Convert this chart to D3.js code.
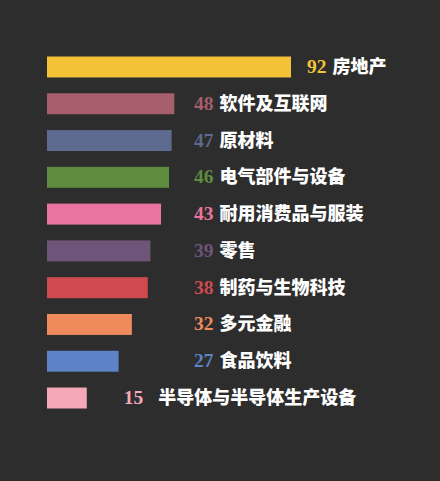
<!DOCTYPE html>
<html>
<head>
<meta charset="utf-8">
<script src="https://cdn.jsdelivr.net/npm/d3@7"></script>
<style>
  html, body { margin: 0; padding: 0; background: #2d2d2d; }
  svg { display: block; }
</style>
</head>
<body>
<script>
// data
const categories = ["房地产", "软件及互联网", "原材料", "电气部件与设备", "耐用消费品与服装",
  "零售", "制药与生物科技", "多元金融", "食品饮料", "半导体与半导体生产设备"];
const values = [92, 48, 47, 46, 43, 39, 38, 32, 27, 15];
const colors = ["#f3c237", "#a65e6c", "#5e6a8f", "#5f8b3e", "#e8749f",
  "#6d5478", "#cf4a4e", "#ef8a5c", "#5b83c6", "#f4a8b8"];

const w = 440, h = 481;
const margin = {left: 47};

const svg = d3.select("body").append("svg")
    .attr("width", w)
    .attr("height", h);

svg.append("rect").attr("width", w).attr("height", h).attr("fill", "#2d2d2d");

const rows = categories.map((c, i) => ({name: c, value: values[i], color: colors[i], i: i}));

const x = d3.scaleLinear().domain([0, 92]).range([0, 244]);
const y = d3.scaleBand().domain(categories).range([56.5, 408.5]).paddingInner(0.43);

const g = svg.append("g");

g.selectAll("rect.bar")
    .data(rows)
    .join("rect")
    .attr("class", "bar")
    .attr("x", margin.left)
    .attr("y", d => y(d.name))
    .attr("width", d => x(d.value))
    .attr("height", y.bandwidth())
    .attr("fill", d => d.color);

// labels mostly sit in one column, the top and bottom rows follow their bar
const col = 194;
function valueX(d) {
    const end = margin.left + x(d.value);
    if (d.i == 0) return end + 16;
    if (d.i == rows.length - 1) return end + 37;
    return col;
}

const lab = g.selectAll("g.lab")
    .data(rows)
    .join("g")
    .attr("class", "lab")
    .attr("transform", d => "translate(" + valueX(d) + "," + (y(d.name) + y.bandwidth() / 2 + 6) + ")");

lab.append("text")
    .attr("class", "num")
    .attr("fill", d => d.color)
    .style("font-family", "'Liberation Serif', 'DejaVu Serif', serif")
    .style("font-weight", "bold")
    .style("font-size", "19.5px")
    .text(d => d.value);

lab.append("text")
    .attr("x", function(d) {
        const nw = this.parentNode.querySelector("text.num").getComputedTextLength();
        return nw + (d.i == rows.length - 1 ? 15 : 6);
    })
    .attr("fill", "#ffffff")
    .style("font-family", "'Noto Sans CJK SC', sans-serif")
    .style("font-weight", "900")
    .style("font-size", "18px")
    .text(d => d.name);
</script>
</body>
</html>
